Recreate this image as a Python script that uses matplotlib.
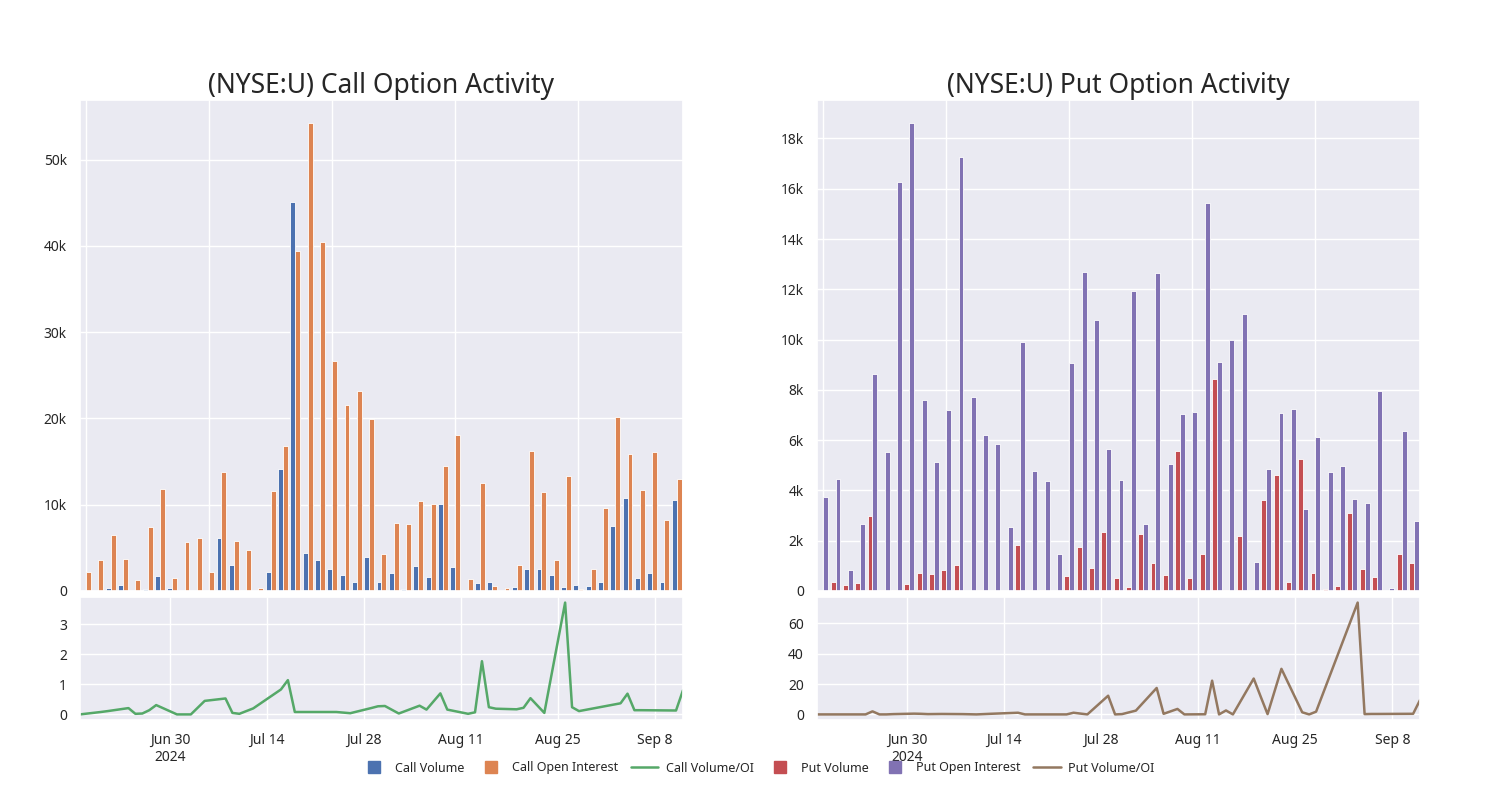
import numpy as np
import pandas as pd
import matplotlib
matplotlib.use("Agg")
import matplotlib.pyplot as plt
import matplotlib.dates as mdates
from matplotlib.ticker import FuncFormatter, MultipleLocator, FixedLocator
from matplotlib.lines import Line2D
import seaborn as sns

sns.set_theme(style="darkgrid")
plt.rcParams['font.family'] = ['Noto Sans', 'DejaVu Sans']

dates = ["2024-06-17", "2024-06-20", "2024-06-21", "2024-06-24", "2024-06-25", "2024-06-26",
         "2024-06-27", "2024-06-28", "2024-07-01", "2024-07-02", "2024-07-03", "2024-07-05",
         "2024-07-08", "2024-07-09", "2024-07-10", "2024-07-12", "2024-07-16", "2024-07-17",
         "2024-07-18", "2024-07-19", "2024-07-23", "2024-07-24", "2024-07-26", "2024-07-29",
         "2024-07-30", "2024-07-31", "2024-08-02", "2024-08-05", "2024-08-06", "2024-08-08",
         "2024-08-09", "2024-08-12", "2024-08-13", "2024-08-14", "2024-08-15", "2024-08-16",
         "2024-08-19", "2024-08-20", "2024-08-21", "2024-08-23", "2024-08-26", "2024-08-27",
         "2024-08-28", "2024-09-03", "2024-09-04", "2024-09-05", "2024-09-06", "2024-09-11",
         "2024-09-12"]

call_volume = [0, 0, 300, 650, 20, 200, 1700, 400, 0, 0, 0, 6100, 3000, 100, 0, 2200,
               14100, 45100, 4400, 3650, 2500, 1900, 1000, 3900, 1050, 2100, 200, 2900,
               1600, 10100, 2800, 0, 900, 1100, 50, 450, 2600, 2500, 1900, 500, 700, 550,
               1000, 7500, 10800, 1550, 2100, 1000, 10500]
call_oi = [2250, 3600, 6500, 3700, 1300, 7400, 11800, 1500, 5700, 6100, 2250, 13750, 5750,
           4800, 400, 11600, 16800, 39400, 54200, 40500, 26700, 21600, 23200, 19900, 4250,
           7900, 7800, 10400, 10100, 14500, 18100, 1400, 12500, 600, 300, 3000, 16200,
           11500, 3600, 13300, 190, 2600, 9600, 20200, 15900, 11700, 16100, 8200, 13000]
call_ratio = [0.0, 0.08, 0.11, 0.21, 0.02, 0.03, 0.14, 0.31, 0.0, 0.0, 0.0, 0.45, 0.53,
              0.05, 0.02, 0.2, 0.83, 1.14, 0.08, 0.08, 0.08, 0.08, 0.04, 0.21, 0.27, 0.28,
              0.03, 0.29, 0.16, 0.7, 0.16, 0.02, 0.07, 1.77, 0.24, 0.19, 0.17, 0.22, 0.54,
              0.05, 3.72, 0.24, 0.11, 0.37, 0.69, 0.14, 0.14, 0.13, 0.8]

put_volume = [0, 370, 230, 310, 3000, 30, 30, 280, 730, 690, 850, 1050, 0, 40, 0, 10, 1840,
              50, 50, 0, 590, 1760, 930, 2360, 530, 170, 2270, 1110, 640, 5570, 530, 1490,
              8440, 40, 2170, 10, 3600, 4630, 360, 5250, 710, 70, 190, 3110, 890, 570, 10,
              1480, 1110]
put_oi = [3730, 4470, 850, 2670, 8640, 5520, 16250, 18600, 7610, 5150, 7210, 17250, 7730,
          6200, 5840, 2560, 9920, 4770, 4360, 1490, 9050, 12700, 10770, 5630, 4430, 11930,
          2670, 12630, 5070, 7030, 7130, 15430, 9090, 9970, 11030, 1150, 4850, 7070, 7230,
          3250, 6130, 4720, 4990, 3670, 3520, 7970, 110, 6370, 2790]
put_ratio = [0, 0, 0, 0, 2.0, 0, 0, 0.2, 0.5, 0.4, 0.2, 0.3, 0.2, 0.1, 0, 0.4, 1.1, 0, 0, 0,
             0, 1.1, 0, 12.3, 0, 0.2, 2.5, 17.4, 0.4, 3.6, 0, 0.1, 22.2, 0, 2.6, 0, 23.6,
             11.8, 0.2, 30.0, 1.4, 0, 1.8, 73.6, 0.2, 0.3, 0.3, 0.4, 9.5]

pal = sns.color_palette("deep")
c_blue, c_orange, c_green, c_red, c_purple, c_brown = pal[0], pal[1], pal[2], pal[3], pal[4], pal[5]

x = np.arange(len(dates))
dts = pd.to_datetime(dates)


def kfmt(v, pos):
    if v == 0:
        return "0"
    return f"{v / 1000:g}k"


def datefmt(v, pos):
    d = mdates.num2date(v)
    s = f"{d.strftime('%b')} {d.day}"
    if pos == 0:
        s += "\n2024"
    return s


fig = plt.figure(figsize=(15, 8), dpi=100)


def panel(left, title, vol, oi, ratio, cv, co, cl, step, lstep):
    ax = fig.add_axes([left, 0.26125, 0.402, 0.61375])
    ax.bar(x - 0.2, vol, width=0.4, color=cv, linewidth=0.6)
    ax.bar(x + 0.2, oi, width=0.4, color=co, linewidth=0.6)
    ax.set_xlim(-0.5, len(x) - 0.5)
    ax.xaxis.set_major_locator(MultipleLocator(10))
    ax.set_xticklabels([])
    ax.yaxis.set_major_locator(MultipleLocator(step))
    ax.yaxis.set_major_formatter(FuncFormatter(kfmt))
    ax.tick_params(labelsize=10)
    ax.set_title(title, fontsize=19, pad=4)

    ax2 = fig.add_axes([left, 0.1, 0.402, 0.15375])
    ax2.plot(dts, ratio, color=cl, linewidth=1.8)
    ax2.set_xlim(dts[0], dts[-1])
    ax2.yaxis.set_major_locator(MultipleLocator(lstep))
    ticks = pd.date_range("2024-06-30", "2024-09-12", freq="14D")
    ax2.xaxis.set_major_locator(FixedLocator(mdates.date2num(ticks)))
    ax2.xaxis.set_major_formatter(FuncFormatter(datefmt))
    ax2.tick_params(labelsize=10)
    return ax, ax2


panel(0.0533, "(NYSE:U) Call Option Activity", call_volume, call_oi, call_ratio,
      c_blue, c_orange, c_green, 10000, 1)
panel(0.5447, "(NYSE:U) Put Option Activity", put_volume, put_oi, put_ratio,
      c_red, c_purple, c_brown, 2000, 20)

handles = [
    Line2D([0], [0], marker='s', ls='', color=c_blue, markersize=9),
    Line2D([0], [0], marker='s', ls='', color=c_orange, markersize=9),
    Line2D([0], [0], color=c_green, linewidth=1.8),
    Line2D([0], [0], marker='s', ls='', color=c_red, markersize=9),
    Line2D([0], [0], marker='s', ls='', color=c_purple, markersize=9),
    Line2D([0], [0], color=c_brown, linewidth=1.8),
]
labels = ["Call Volume", "Call Open Interest", "Call Volume/OI",
          "Put Volume", "Put Open Interest", "Put Volume/OI"]
fig.legend(handles, labels, loc="center", bbox_to_anchor=(0.505, 0.04), ncol=6,
           frameon=False, fontsize=9, handlelength=2.2, handletextpad=0.6,
           columnspacing=1.0)

fig.savefig("out.png", dpi=100)
